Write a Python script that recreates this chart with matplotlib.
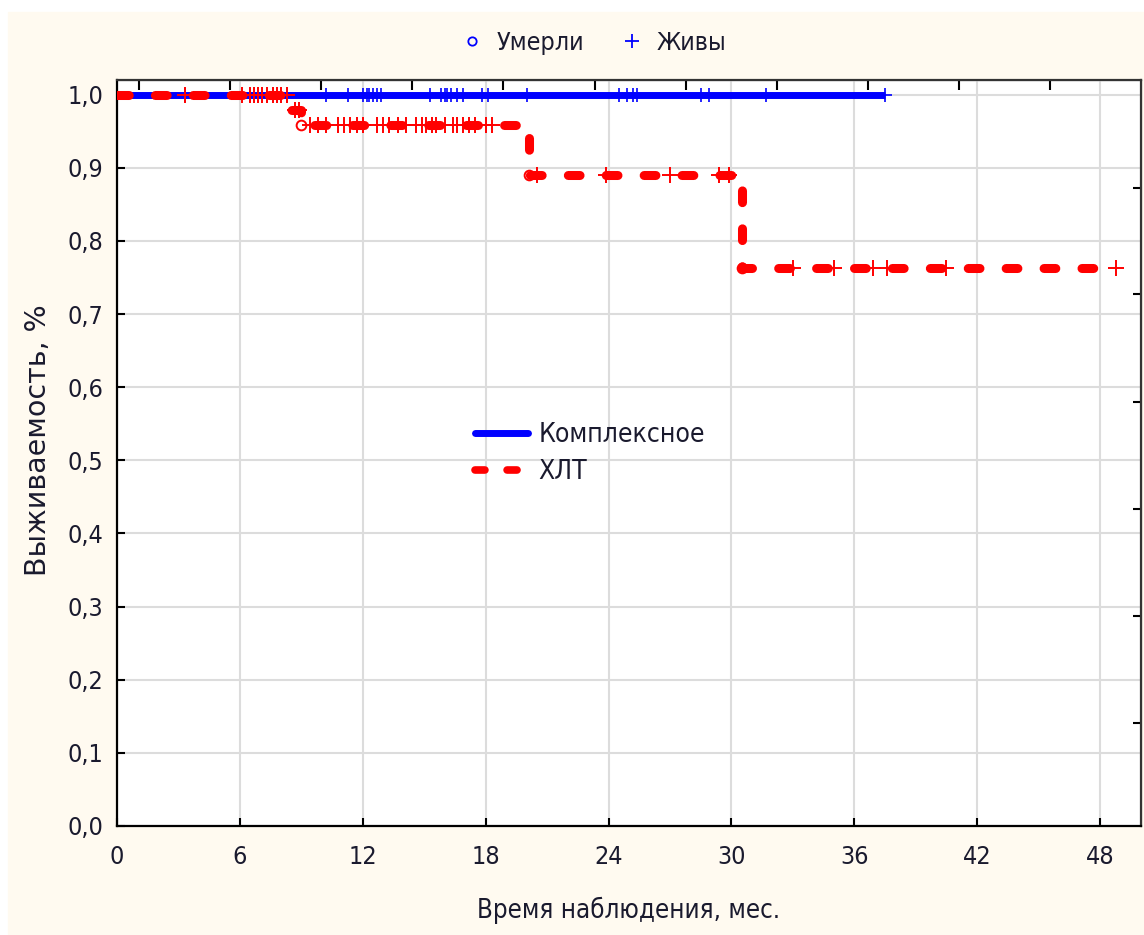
"""
Kaplan-Meier krivulje prezivljavanja: Комплексное vs ХЛТ
"""

import numpy as np
import matplotlib.pyplot as plt
from matplotlib.lines import Line2D
from matplotlib.patches import Rectangle

# -------------------------------
# PODACI (ocitano sa slike)
# -------------------------------

# Комплексное - nema dogadjaja, samo cenzurisani
blue_end = 37.5
blue_cens = [3.3, 6.5, 10.2, 11.3, 12.0, 12.2, 12.3, 12.5, 12.7, 12.9,
             15.3, 15.8, 16.0, 16.1, 16.3, 16.6, 16.9, 17.8, 18.1, 20.0,
             24.5, 24.9, 25.2, 25.4, 28.5, 28.9, 31.7, 37.5]

# ХЛТ - stepenasta funkcija
red_times = [0.0, 8.44, 9.0, 20.1, 30.5]
red_surv = [1.0, 0.979, 0.958, 0.890, 0.763]
red_end = 48.8
red_deaths = [9.0, 20.1, 30.5]
red_cens = [3.3, 6.1, 6.5, 6.7, 6.9, 7.1, 7.3, 7.6, 7.8, 8.0, 8.3,
            8.7, 8.9,
            9.4, 9.8, 10.2, 10.8, 11.1, 11.4, 11.7, 12.0, 12.7, 13.0, 13.3,
            13.7, 14.1, 14.6, 14.9, 15.1, 15.4, 15.6, 16.0, 16.4, 16.6,
            16.9, 17.2, 17.5, 18.0, 18.3,
            20.5, 23.9, 27.0, 29.4, 29.9,
            33.0, 35.0, 36.9, 37.6, 40.5, 48.8]

x_ticks = [0, 6, 12, 18, 24, 30, 36, 42, 48]
y_ticks = [0.0, 0.1, 0.2, 0.3, 0.4, 0.5, 0.6, 0.7, 0.8, 0.9, 1.0]
y_labels = ['0,0', '0,1', '0,2', '0,3', '0,4', '0,5', '0,6', '0,7', '0,8', '0,9', '1,0']

# -------------------------------
# STIL
# -------------------------------

FONT = ['Liberation Sans Narrow', 'DejaVu Sans']
TXT = '#1a1a2e'
CREAM = '#fffaf0'
BLUE = '#0000ff'
RED = '#ff0000'
DASH = (0, (1.3, 2.9))

plt.rcParams['font.family'] = FONT
plt.rcParams['font.stretch'] = 'condensed'


def surv_at(t):
    idx = np.searchsorted(red_times, t, side='right') - 1
    return np.array(red_surv)[idx]


fig = plt.figure(figsize=(11.44, 9.35), dpi=100, facecolor='white')
fig.patches.append(Rectangle((8 / 1144, 0), 1, (935 - 12) / 935,
                             transform=fig.transFigure, color=CREAM, zorder=-10))

ax = fig.add_axes([117 / 1144, (935 - 826) / 935, (1141 - 117) / 1144, (826 - 80) / 935])
ax.set_facecolor('white')

# Комплексное
ax.plot([0, blue_end], [1.0, 1.0], color=BLUE, lw=5, solid_capstyle='butt', zorder=3)
ax.plot(blue_cens, np.ones(len(blue_cens)), '+', color=BLUE, ms=10, mew=1.2, zorder=3)

# ХЛТ
st_x = list(red_times) + [red_end]
st_y = list(red_surv) + [red_surv[-1]]
ax.step(st_x, st_y, where='post', color=RED, lw=6.5, ls=DASH,
        dash_capstyle='round', zorder=4)
ax.plot(red_cens, surv_at(np.array(red_cens)), '+', color=RED, ms=11, mew=1.4, zorder=5)
ax.plot(red_deaths, surv_at(np.array(red_deaths)), 'o', color=RED, mfc='none',
        ms=7, mew=1.4, zorder=5)

ax.set_xlim(0, 50)
ax.set_ylim(0, 1.02)
ax.set_xticks(x_ticks)
ax.set_yticks(y_ticks)
ax.set_yticklabels(y_labels)
ax.grid(True, color='#dcdcdc', lw=1.5, zorder=0)
ax.set_axisbelow(True)
ax.tick_params(direction='in', length=6, width=1.5, labelsize=18, colors='black',
               labelcolor=TXT)
ax.tick_params(axis='x', pad=14)
ax.tick_params(axis='y', pad=10)

for s in ['left', 'bottom']:
    ax.spines[s].set_linewidth(1.6)
    ax.spines[s].set_color('black')
for s in ['top', 'right']:
    ax.spines[s].set_linewidth(1.6)
    ax.spines[s].set_color('#333333')

# gornja i desna skala (bez oznaka)
top = ax.secondary_xaxis('top')
top.set_xticks(np.arange(1.07, 50, 4.45))
top.tick_params(direction='in', length=7, width=1.5, labeltop=False)
right = ax.secondary_yaxis('right')
right.set_yticks([0.873, 0.727, 0.580, 0.434, 0.287, 0.141])
right.tick_params(direction='in', length=6, width=1.5, labelright=False)

ax.set_xlabel('Время наблюдения, мес.', fontsize=18.5, color=TXT)
ax.xaxis.set_label_coords(0.5, -(910 - 826) / 746, transform=ax.transAxes)
ax.xaxis.label.set_va('center')
ax.set_ylabel('Выживаемость, %', fontsize=20.5, color=TXT, fontstretch='normal')
ax.yaxis.set_label_coords((38 - 117) / 1024, (826 - 440) / 746, transform=ax.transAxes)
ax.yaxis.label.set_va('center')

# legenda u grafu
h_lines = [Line2D([], [], color=BLUE, lw=5, solid_capstyle='round'),
           Line2D([], [], color=RED, lw=5.5, ls=DASH, dash_capstyle='round')]
ax.legend(h_lines, ['Комплексное', 'ХЛТ'], loc='upper left', frameon=False,
          bbox_to_anchor=(0.35, 0.541), borderaxespad=0, borderpad=0,
          handlelength=2.0, handletextpad=0.4, labelspacing=0.4,
          prop={'family': FONT, 'size': 19}, labelcolor=TXT)

# legenda markera gore
h_marks = [Line2D([], [], ls='none', marker='o', mfc='none', mec=BLUE, ms=6, mew=1.3),
           Line2D([], [], ls='none', marker='+', color=BLUE, ms=10, mew=1.3)]
fig.legend(h_marks, ['Умерли', 'Живы'], loc='center', ncol=2, frameon=False,
           bbox_to_anchor=(594 / 1144, 1 - 43 / 935), handlelength=0.8,
           handletextpad=0.6, columnspacing=1.5,
           prop={'family': FONT, 'size': 18}, labelcolor=TXT)

fig.savefig('out.png', dpi=100, facecolor=fig.get_facecolor())
